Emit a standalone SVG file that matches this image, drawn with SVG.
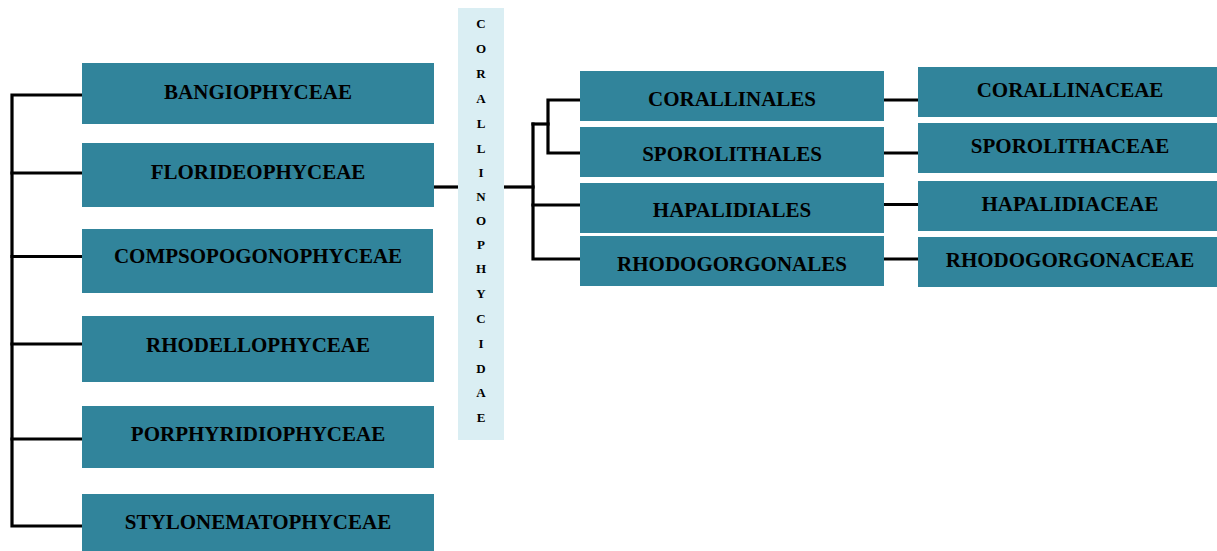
<svg xmlns="http://www.w3.org/2000/svg" width="1217" height="551" viewBox="0 0 1217 551">
<style>
.box{fill:#31849B}
.sub{fill:#DAEEF3}
.t{font-family:"Liberation Serif","Times New Roman",serif;font-weight:bold;font-size:21px;fill:#000;text-anchor:middle}
.v{font-family:"Liberation Serif","Times New Roman",serif;font-weight:bold;font-size:13px;fill:#000;text-anchor:middle}
.c{fill:none;stroke:#000;stroke-width:3.2;stroke-linejoin:miter;stroke-linecap:square}
</style>
<rect width="1217" height="551" fill="#fff"/>
<g id="connectors">
<path class="c" d="M82 95 H12 V526 H82"/>
<path class="c" d="M12 173 H82"/>
<path class="c" d="M12 256.5 H82"/>
<path class="c" d="M12 344 H82"/>
<path class="c" d="M12 439 H82"/>
<path class="c" d="M435 187 H457"/>
<path class="c" d="M505 187 H533"/>
<path class="c" d="M533 124 V259 H579"/>
<path class="c" d="M533 124 H548"/>
<path class="c" d="M579 100 H548 V153 H579"/>
<path class="c" d="M533 205 H579"/>
<path class="c" d="M885 100 H917"/>
<path class="c" d="M885 153 H917"/>
<path class="c" d="M885 204.5 H917"/>
<path class="c" d="M885 259 H917"/>
</g>
<g id="bangiophyceae"><rect class="box" x="82" y="63" width="352" height="61"/><text class="t" x="258" y="99">BANGIOPHYCEAE</text></g>
<g id="florideophyceae"><rect class="box" x="82" y="143" width="352" height="64"/><text class="t" x="258" y="179">FLORIDEOPHYCEAE</text></g>
<g id="compsopogonophyceae"><rect class="box" x="82" y="229" width="351" height="64"/><text class="t" x="258" y="263">COMPSOPOGONOPHYCEAE</text></g>
<g id="rhodellophyceae"><rect class="box" x="82" y="316" width="352" height="66"/><text class="t" x="258" y="351.5">RHODELLOPHYCEAE</text></g>
<g id="porphyridiophyceae"><rect class="box" x="82" y="406" width="352" height="62"/><text class="t" x="258" y="441">PORPHYRIDIOPHYCEAE</text></g>
<g id="stylonematophyceae"><rect class="box" x="82" y="494" width="352" height="57"/><text class="t" x="258" y="529">STYLONEMATOPHYCEAE</text></g>
<g id="corallinophycidae"><rect class="sub" x="458" y="8" width="46" height="432"/>
<text class="v" x="481" y="27.5">C</text><text class="v" x="481" y="52.5">O</text><text class="v" x="481" y="77.5">R</text><text class="v" x="481" y="102.5">A</text><text class="v" x="481" y="127.5">L</text><text class="v" x="481" y="152.5">L</text><text class="v" x="481" y="176.5">I</text><text class="v" x="481" y="200.5">N</text><text class="v" x="481" y="224.5">O</text><text class="v" x="481" y="248.5">P</text><text class="v" x="481" y="272.5">H</text><text class="v" x="481" y="297.5">Y</text><text class="v" x="481" y="322.5">C</text><text class="v" x="481" y="347.5">I</text><text class="v" x="481" y="372.5">D</text><text class="v" x="481" y="396.5">A</text><text class="v" x="481" y="421.5">E</text></g>
<g id="corallinales"><rect class="box" x="580" y="71" width="304" height="50"/><text class="t" x="732" y="106">CORALLINALES</text></g>
<g id="sporolithales"><rect class="box" x="580" y="127" width="304" height="50"/><text class="t" x="732" y="161">SPOROLITHALES</text></g>
<g id="hapalidiales"><rect class="box" x="580" y="183" width="304" height="50"/><text class="t" x="732" y="217">HAPALIDIALES</text></g>
<g id="rhodogorgonales"><rect class="box" x="580" y="236" width="304" height="50"/><text class="t" x="732" y="270.5">RHODOGORGONALES</text></g>
<g id="corallinaceae"><rect class="box" x="918" y="67" width="299" height="50"/><text class="t" x="1070" y="97">CORALLINACEAE</text></g>
<g id="sporolithaceae"><rect class="box" x="918" y="123" width="299" height="50"/><text class="t" x="1070" y="153">SPOROLITHACEAE</text></g>
<g id="hapalidiaceae"><rect class="box" x="918" y="181" width="299" height="50"/><text class="t" x="1070" y="210.5">HAPALIDIACEAE</text></g>
<g id="rhodogorgonaceae"><rect class="box" x="918" y="237" width="299" height="50"/><text class="t" x="1070" y="266.5">RHODOGORGONACEAE</text></g>
</svg>
